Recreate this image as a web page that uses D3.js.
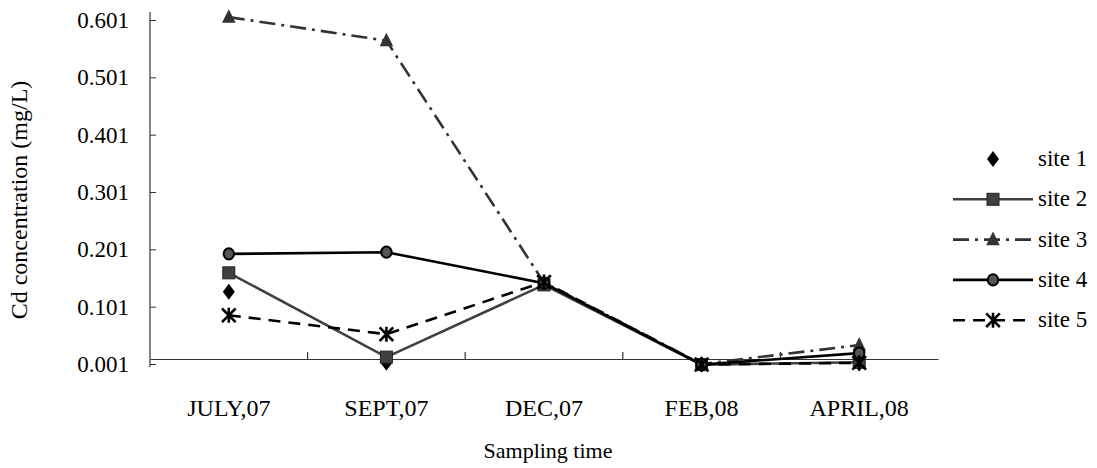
<!DOCTYPE html>
<html><head><meta charset="utf-8">
<script src="https://cdn.jsdelivr.net/npm/d3@7"></script>
<style>body{margin:0;background:#fff} text{font-family:"Liberation Serif","Times New Roman",serif;}</style>
</head><body><svg id="c" width="1097" height="468"></svg>
<script>
const categories = ["JULY,07","SEPT,07","DEC,07","FEB,08","APRIL,08"];
const yTicks = [0.001,0.101,0.201,0.301,0.401,0.501,0.601];
const site1 = [0.127,0.003,0.142,0.0,0.002];
const site2 = [0.160,0.013,0.139,0.0,0.004];
const site3 = [0.606,0.565,0.143,0.001,0.034];
const site4 = [0.193,0.196,0.142,0.0,0.020];
const site5 = [0.086,0.053,0.144,0.0,0.003];
const seriesNames = ["site 1","site 2","site 3","site 4","site 5"];

const series = [
  {name:seriesNames[0], values:site1, line:false, marker:"diamond", color:"#000", dash:null},
  {name:seriesNames[1], values:site2, line:true, marker:"square", color:"#404040", dash:null},
  {name:seriesNames[2], values:site3, line:true, marker:"triangle", color:"#333", dash:"16,6,3,6"},
  {name:seriesNames[3], values:site4, line:true, marker:"circle", color:"#000", dash:null},
  {name:seriesNames[4], values:site5, line:true, marker:"star", color:"#000", dash:"12,8"}
];

const svg = d3.select("#c");
const x = d3.scaleBand().domain(categories).range([150, 938]);
const y = d3.scaleLinear().domain([0.001, 0.601]).range([364, 20]);
const cx = c => x(c) + x.bandwidth()/2;

// y axis
const yAxis = d3.axisLeft(y).tickValues(yTicks).tickFormat(d3.format(".3f")).tickSize(6).tickSizeOuter(0);
const gy = svg.append("g").attr("transform","translate(150,0)").call(yAxis);
gy.select(".domain").attr("d","M0,12V367").attr("stroke","#333").attr("stroke-width",1.2);
gy.selectAll(".tick line").attr("x2",6).attr("stroke","#333");
gy.selectAll(".tick text").attr("x",-21).attr("font-size",23).attr("fill","#000");

// x axis line at y=359
const xAxisY = 359;
const xAxis = d3.axisBottom(x).tickSize(0).tickSizeOuter(0);
const gx = svg.append("g").attr("transform",`translate(0,${xAxisY})`).call(xAxis);
gx.select(".domain").attr("stroke","#333").attr("stroke-width",1.2);
gx.selectAll(".tick text").attr("y",40).attr("font-size",24).attr("fill","#000");
// category boundary ticks
svg.append("g").selectAll("line").data(categories.slice(1)).join("line")
  .attr("x1",d=>x(d)).attr("x2",d=>x(d)).attr("y1",xAxisY-7).attr("y2",xAxisY)
  .attr("stroke","#333").attr("stroke-width",1.2);

// axis titles
svg.append("text").attr("x",548).attr("y",458).attr("text-anchor","middle")
  .attr("font-size",22).text("Sampling time");
svg.append("text").attr("transform","translate(27,200) rotate(-90)").attr("text-anchor","middle")
  .attr("font-size",24).text("Cd concentration (mg/L)");

function drawMarker(g, type, color, s){
  if(type==="diamond"){
    g.append("path").attr("d",`M0,${-s}L${s*0.75},0L0,${s}L${-s*0.75},0Z`).attr("fill","#000");
  } else if(type==="square"){
    g.append("rect").attr("x",-s*0.75).attr("y",-s*0.75).attr("width",s*1.5).attr("height",s*1.5).attr("fill",color).attr("stroke","#222").attr("stroke-width",1);
  } else if(type==="triangle"){
    g.append("path").attr("d",`M0,${-s}L${s*0.85},${s*0.7}L${-s*0.85},${s*0.7}Z`).attr("fill","#333");
  } else if(type==="circle"){
    g.append("ellipse").attr("rx",s*0.65).attr("ry",s*0.7).attr("fill","#555").attr("stroke","#000").attr("stroke-width",2);
  } else if(type==="star"){
    const r=s*0.85;
    g.append("path").attr("d",`M${-r},${-r}L${r},${r}M${r},${-r}L${-r},${r}M0,${-r*1.1}L0,${r*1.1}`).attr("stroke","#000").attr("stroke-width",2.6);
  }
}

const line = d3.line().x((d,i)=>cx(categories[i])).y(d=>y(d));
const plot = svg.append("g");
series.forEach(s=>{
  if(s.line){
    plot.append("path").datum(s.values).attr("d",line).attr("fill","none")
      .attr("stroke",s.color).attr("stroke-width",2.6).attr("stroke-dasharray",s.dash);
  }
});
series.forEach(s=>{
  s.values.forEach((v,i)=>{
    const g = plot.append("g").attr("transform",`translate(${cx(categories[i])},${y(v)})`);
    drawMarker(g, s.marker, s.color, 8);
  });
});

// legend
const leg = svg.append("g");
series.forEach((s,i)=>{
  const ly = 159 + i*40.3;
  const g = leg.append("g").attr("transform",`translate(0,${ly})`);
  if(s.line){
    g.append("line").attr("x1",953).attr("x2",1033).attr("y1",0).attr("y2",0)
      .attr("stroke",s.color).attr("stroke-width",2.6).attr("stroke-dasharray",s.dash);
  }
  const mg = g.append("g").attr("transform","translate(993,0)");
  drawMarker(mg, s.marker, s.color, 8);
  g.append("text").attr("x",1038).attr("y",7).attr("font-size",23).text(s.name);
});
</script></body></html>
